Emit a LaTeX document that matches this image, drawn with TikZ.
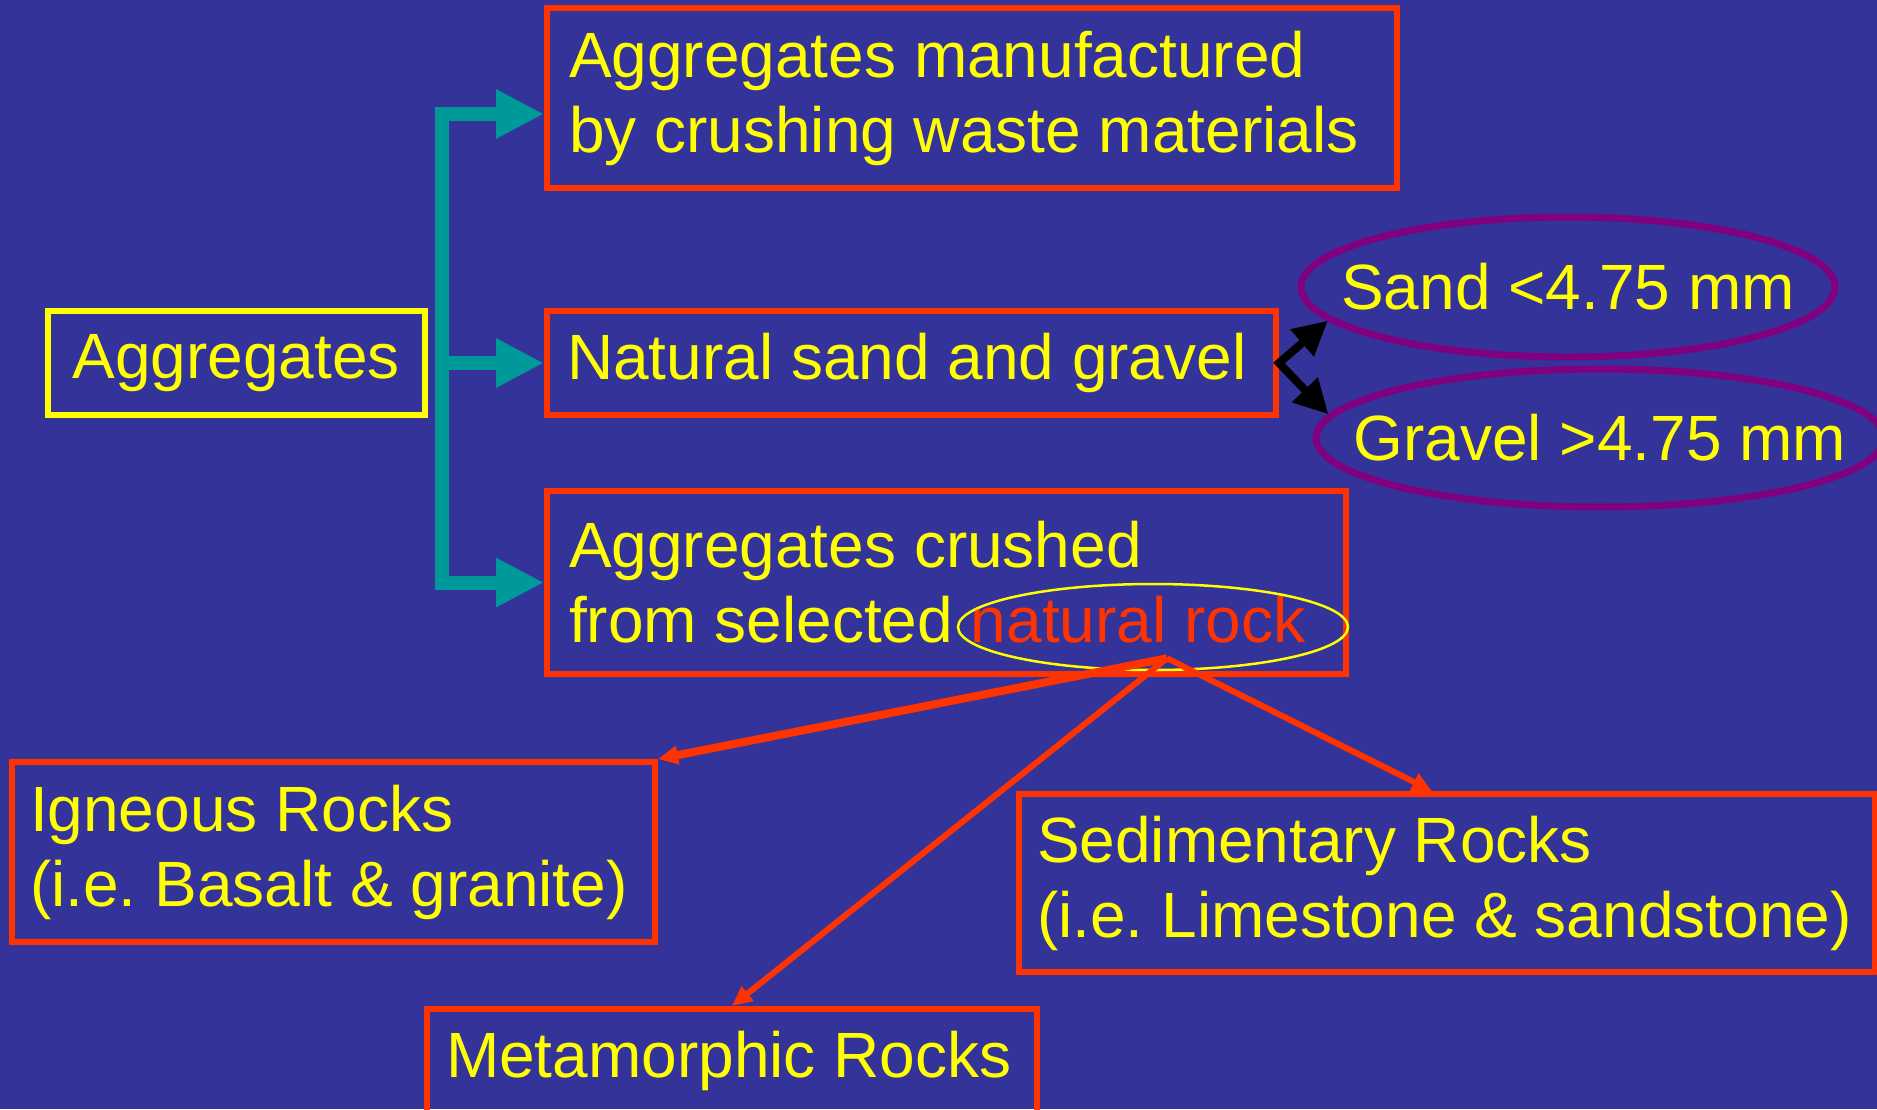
\documentclass[tikz,border=0pt]{standalone}
\usepackage{fontspec}
\setmainfont{Liberation Sans}
\usetikzlibrary{arrows.meta,positioning,calc,shapes.geometric}

\definecolor{slideblue}{RGB}{51,51,153}
\definecolor{boxred}{RGB}{255,51,0}
\definecolor{txtyellow}{RGB}{255,255,0}
\definecolor{forkteal}{RGB}{0,153,153}
\definecolor{ringpurple}{RGB}{128,0,128}

\newcommand{\slidefont}{\fontsize{64}{75}\selectfont\frenchspacing}

\begin{document}
\begin{tikzpicture}[x=1pt,y=-1pt,>=Latex]
  \tikzstyle{rbox}=[draw=boxred,line width=6pt,text=txtyellow,font=\slidefont,align=flush left,inner ysep=4pt]
  \tikzstyle{ring}=[ellipse,draw=ringpurple,line width=7pt,text=txtyellow,font=\slidefont,inner xsep=-150pt,inner ysep=0pt]
  \tikzstyle{fork}=[draw=forkteal,line width=14pt,-{Triangle[length=48pt,width=46pt]}]
  \tikzstyle{splitarrow}=[draw=black,line width=8pt,{Triangle[length=34pt,width=34pt]}-{Triangle[length=34pt,width=34pt]}]
  \tikzstyle{rockarrow}=[draw=boxred,line width=6pt,-{Triangle[length=20pt,width=18pt]}]

  \useasboundingbox (0,0) rectangle (1877,1109);
  \fill[slideblue] (0,0) rectangle (1877,1109);

  % left box and the three kinds
  \node[rbox,draw=txtyellow,align=center,minimum width=377pt,minimum height=104pt] (agg) at (236,363) {Aggregates};
  \node[rbox,text width=806pt,inner xsep=22pt,minimum height=180pt] (manuf) at (972,98) {Aggregates manufactured\\by crushing waste materials};
  \node[rbox,text width=689pt,inner xsep=20pt,minimum height=104pt] (natural) at (911.5,363) {Natural sand and gravel};
  \node[rbox,text width=755pt,inner xsep=22pt,minimum height=183pt] (crushed) at (946.5,582.5) {Aggregates crushed\\from selected \textcolor{boxred}{natural rock}};
  \node[ellipse,draw=txtyellow,line width=2.5pt,inner sep=0pt,minimum width=390pt,minimum height=86pt] (rock) at (1153,627) {};

  % sizes
  \node[ring,minimum width=534pt,minimum height=140pt] (sand) at (1568,287) {Sand <4.75 mm};
  \node[ring,minimum width=568pt,minimum height=138pt] (gravel) at (1600,438) {Gravel >4.75 mm};

  % rock types
  \node[rbox,text width=607pt,inner xsep=18pt,minimum height=180pt] (igneous) at (333.5,852) {Igneous Rocks\\(i.e. Basalt \& granite)};
  \node[rbox,text width=820pt,inner xsep=18pt,minimum height=178pt] (sedim) at (1447,883) {Sedimentary Rocks\\(i.e. Limestone \& sandstone)};
  \node[rbox,text width=572pt,inner xsep=19pt,minimum height=104pt] (meta) at (732,1061) {Metamorphic Rocks};

  % teal bracket
  \coordinate (trunk) at ($(agg.east)+(14,0)$);
  \coordinate (topin) at ($(manuf.west)+(0,16)$);
  \draw[fork,line cap=rect] (crushed.west -| trunk) |- (topin);
  \draw[fork,line cap=rect] (crushed.west -| trunk) -- (crushed.west);
  \draw[fork] (natural.west -| trunk) -- (natural.west);

  \draw[splitarrow] (sand.188) -- (natural.east) -- (gravel.175);

  \coordinate (apex) at ($(rock.south)+(14,-13)$);
  \draw[rockarrow,line width=8pt] (apex) -- (igneous.north east);
  \draw[rockarrow] (apex) -- (meta.north);
  \draw[rockarrow] (apex) -- ([xshift=-15pt]sedim.north);
\end{tikzpicture}
\end{document}
